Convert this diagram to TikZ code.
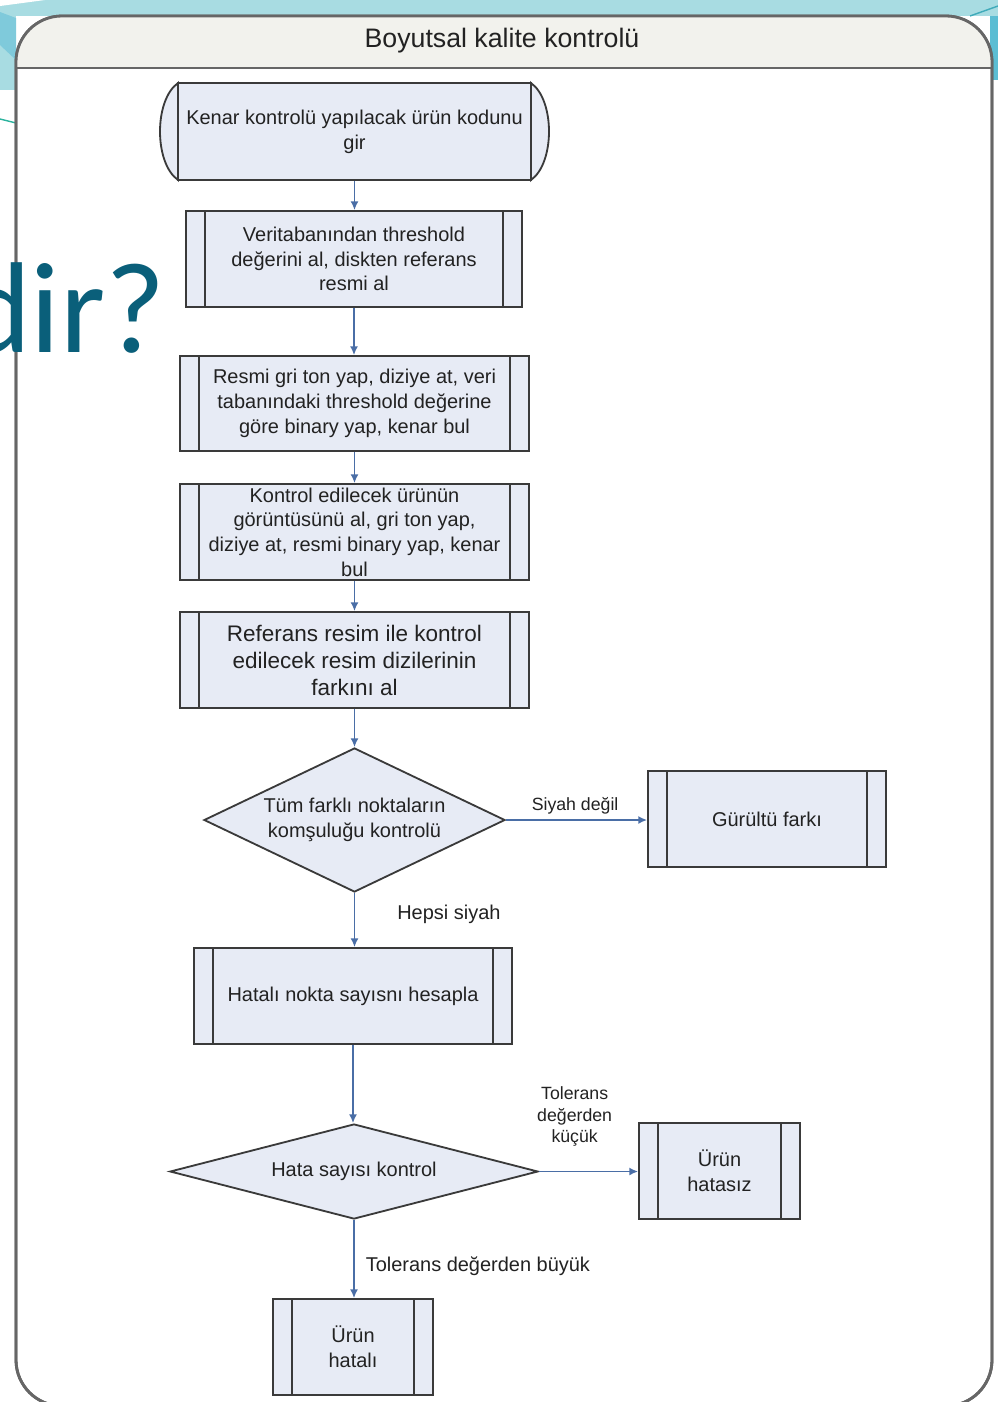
\documentclass[tikz,border=0pt]{standalone}
\usepackage{fontspec}
\setmainfont{Liberation Sans}
\newfontfamily\slidefont{Carlito}
\usetikzlibrary{shapes.geometric,arrows.meta}
\definecolor{boxfill}{HTML}{E7EBF5}
\definecolor{boxline}{HTML}{3A3A3A}
\definecolor{arrowc}{HTML}{4A6EA6}
\definecolor{framec}{HTML}{666666}
\definecolor{bandc}{HTML}{F2F2ED}
\definecolor{txt}{HTML}{222222}
\definecolor{slideteal}{HTML}{0A5F7A}
\definecolor{cyanlight}{HTML}{A8DCE2}
\definecolor{cyanmid}{HTML}{7FCADB}
\definecolor{cyandark}{HTML}{5BBDD3}
\definecolor{greenline}{HTML}{2BB39E}
\tikzset{
  boxtext/.style={font=\fontsize{14.2}{17.6}\selectfont, text=txt, align=center},
  procbox/.style={boxtext, draw=boxline, fill=boxfill, line width=1.3pt, inner sep=1pt,
    path picture={
      \draw[boxline,line width=1.3pt] ([xshift=0.475cm]path picture bounding box.north west) -- ([xshift=0.475cm]path picture bounding box.south west);
      \draw[boxline,line width=1.3pt] ([xshift=-0.475cm]path picture bounding box.north east) -- ([xshift=-0.475cm]path picture bounding box.south east);
    }},
  decbox/.style={boxtext, shape=diamond, draw=boxline, fill=boxfill, line width=1.3pt, inner sep=0pt},
  arr/.style={draw=arrowc, line width=1.1pt, -{Latex[length=2.2mm,width=2mm]}},
  lbl/.style={font=\fontsize{14.2}{17.6}\selectfont, text=txt, inner sep=0pt, align=center},
  slbl/.style={font=\fontsize{12.6}{15.3}\selectfont, text=txt, inner sep=0pt, align=center}
}
\begin{document}
\begin{tikzpicture}[x=0.025cm,y=-0.025cm]
\useasboundingbox (0,0) rectangle (998,1402);
\clip (0,0) rectangle (998,1402);
% slide background
\fill[white] (0,0) rectangle (998,1402);
\fill[cyanlight] (0,0) rectangle (998,16);
\fill[white] (0,0) -- (45,0) -- (0,6) -- cycle;
\fill[cyanlight] (0,12) rectangle (16,90);
\fill[cyanmid] (0,12) -- (16,18) -- (16,60) -- (0,45) -- cycle;
\draw[greenline, line width=1pt] (0,119) -- (16,123);
\fill[cyandark] (990,16) rectangle (998,80);
\draw[cyandark!70!teal, line width=1pt] (970,16) -- (998,6);
% frame
\draw[framec, line width=2pt, fill=white, rounded corners=1.15cm] (16,16) rectangle (992,1406);
\begin{scope}
  \clip[rounded corners=1.15cm] (16,16) rectangle (992,1406);
  \fill[bandc] (16,16) rectangle (992,68);
\end{scope}
\draw[framec, line width=2pt, rounded corners=1.15cm] (16,16) rectangle (992,1406);
\draw[framec, line width=2pt] (16,68) -- (992,68);
\node[font=\fontsize{19}{22}\selectfont, text=txt] (title) at (502,41) {Boyutsal kalite kontrolü};
% first node with rounded sides
\draw[boxline, line width=1.3pt, fill=boxfill] (178,83) .. controls (154,100) and (154,163) .. (178,180) -- cycle;
\draw[boxline, line width=1.3pt, fill=boxfill] (531,83) .. controls (555,100) and (555,163) .. (531,180) -- cycle;
\node[boxtext, draw=boxline, fill=boxfill, line width=1.3pt, minimum width=8.825cm, minimum height=2.425cm, inner sep=1pt] (n1) at (354.5,131.5) {Kenar kontrolü yapılacak ürün kodunu\\gir};
\node[procbox, minimum width=8.4cm, minimum height=2.4cm] (n2) at (354,259) {Veritabanından threshold\\değerini al, diskten referans\\resmi al};
\node[procbox, minimum width=8.725cm, minimum height=2.375cm] (n3) at (354.5,403.5) {Resmi gri ton yap, diziye at, veri\\tabanındaki threshold değerine\\göre binary yap, kenar bul};
\node[procbox, minimum width=8.725cm, minimum height=2.4cm, inner sep=0pt] (n4) at (354.5,532) {Kontrol edilecek ürünün\\görüntüsünü al, gri ton yap,\\diziye at, resmi binary yap, kenar\\bul};
\node[procbox, minimum width=8.725cm, minimum height=2.4cm, font=\fontsize{16}{19.2}\selectfont] (n5) at (354.5,660) {Referans resim ile kontrol\\edilecek resim dizilerinin\\farkını al};
\node[decbox, minimum width=7.525cm, minimum height=3.6cm, aspect=2.09] (d1) at (354.5,820) {Tüm farklı noktaların\\komşuluğu kontrolü};
\node[procbox, minimum width=5.95cm, minimum height=2.4cm] (g) at (767,819) {Gürültü farkı};
\node[procbox, minimum width=7.95cm, minimum height=2.4cm] (h) at (353,996) {Hatalı nokta sayısnı hesapla};
\node[decbox, minimum width=9.2cm, minimum height=2.375cm, aspect=3.87] (d2) at (354,1171.5) {Hata sayısı kontrol};
\node[procbox, minimum width=4.025cm, minimum height=2.4cm] (ok) at (719.5,1171) {Ürün\\hatasız};
\node[procbox, minimum width=4cm, minimum height=2.4cm] (bad) at (353,1347) {Ürün\\hatalı};
% connectors
\draw[arr] (n1.south) -- (n1.south |- n2.north);
\draw[arr] (n2.south) -- (n2.south |- n3.north);
\draw[arr] (n3.south) -- (n3.south |- n4.north);
\draw[arr] (n4.south) -- (n4.south |- n5.north);
\draw[arr] (n5.south) -- (n5.south |- d1.north);
\draw[arr] (d1.east) -- node[slbl, pos=0.49, anchor=base, yshift=0.25cm] {Siyah değil} (d1.east -| g.west);
\draw[arr] (d1.south) -- node[lbl, pos=0.39, anchor=west, xshift=1.05cm] {Hepsi siyah} (d1.south |- h.north);
\draw[arr] (h.south) -- (h.south |- d2.north);
\draw[arr] (d2.east) -- node[slbl, pos=0.36, anchor=south, yshift=0.6cm] {Tolerans\\değerden\\küçük} (d2.east -| ok.west);
\draw[arr] (d2.south) -- node[lbl, pos=0.59, anchor=west, xshift=0.275cm] {Tolerans değerden büyük} (d2.south |- bad.north);
% slide title fragment (cut at the left edge, as in the reference)
\node[font=\slidefont\fontsize{92}{92}\selectfont, text=slideteal, anchor=base east, inner sep=0pt] (dir) at (166,352) {dir?};
\end{tikzpicture}
\end{document}
